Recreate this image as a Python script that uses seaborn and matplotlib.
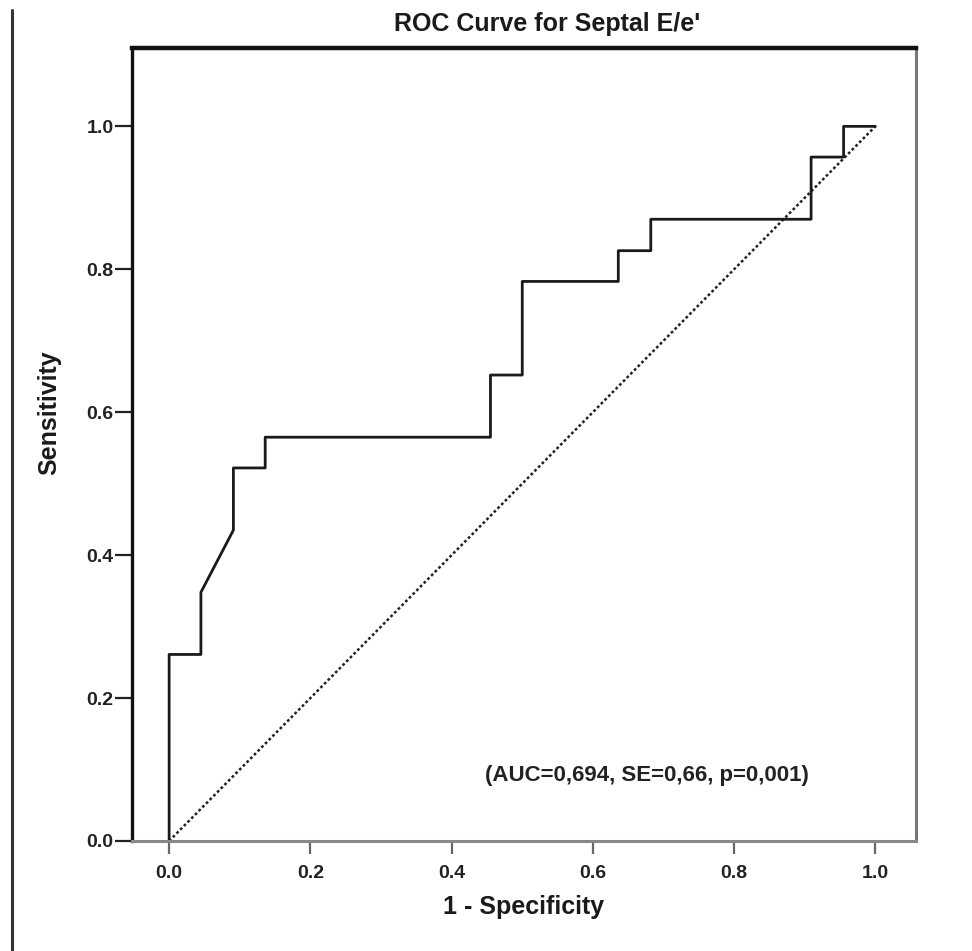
import matplotlib
matplotlib.use("Agg")
import matplotlib.pyplot as plt
from matplotlib.lines import Line2D
import pandas as pd
import seaborn as sns

# ROC curve vertices (1 - specificity, sensitivity)
fpr = [0.0, 0.0, 0.045, 0.045, 0.091, 0.091, 0.136, 0.136, 0.455, 0.455, 0.5,
       0.5, 0.636, 0.636, 0.682, 0.682, 0.909, 0.909, 0.955, 0.955, 1.0]
tpr = [0.0, 0.261, 0.261, 0.348, 0.435, 0.522, 0.522, 0.565, 0.565, 0.652, 0.652,
       0.783, 0.783, 0.826, 0.826, 0.870, 0.870, 0.957, 0.957, 1.0, 1.0]

# chance reference line
ref_x = [0.0, 1.0]
ref_y = [0.0, 1.0]

tick_values = [0.0, 0.2, 0.4, 0.6, 0.8, 1.0]
tick_labels = ["0.0", "0.2", "0.4", "0.6", "0.8", "1.0"]

title = "ROC Curve for Septal E/e'"
xlabel = "1 - Specificity"
ylabel = "Sensitivity"
stats_text = "(AUC=0,694, SE=0,66, p=0,001)"

sns.set_theme(style="white")
plt.rcParams["font.family"] = ["Liberation Sans", "DejaVu Sans"]
plt.rcParams["font.weight"] = "bold"

fig = plt.figure(figsize=(9.72, 9.51), dpi=100)
ax = fig.add_axes([0.1355, 0.1157, 0.8065, 0.8341])

roc = pd.DataFrame({"fpr": fpr, "tpr": tpr})
ref = pd.DataFrame({"x": ref_x, "y": ref_y})

sns.lineplot(data=ref, x="x", y="y", ax=ax, sort=False, estimator=None,
             color="#222222", linewidth=1.8, linestyle=(0, (1.1, 1.0)))
sns.lineplot(data=roc, x="fpr", y="tpr", ax=ax, sort=False, estimator=None,
             color="#1a1a1a", linewidth=2.0)

ax.set_xlim(-0.053, 1.057)
ax.set_ylim(0.0, 1.11)
ax.set_xticks(tick_values)
ax.set_xticklabels(tick_labels)
ax.set_yticks(tick_values)
ax.set_yticklabels(tick_labels)

ax.tick_params(axis="x", direction="out", length=9, width=1.6, color="#666666",
               labelsize=14, labelcolor="#222222", pad=8, bottom=True)
ax.tick_params(axis="y", direction="out", length=12, width=1.6, color="#222222",
               labelsize=14, labelcolor="#222222", pad=1, left=True)
for lab in ax.get_xticklabels() + ax.get_yticklabels():
    lab.set_fontweight("bold")

ax.spines["top"].set_color("#111111")
ax.spines["top"].set_linewidth(3.2)
ax.spines["left"].set_color("#111111")
ax.spines["left"].set_linewidth(2.4)
ax.spines["right"].set_color("#777777")
ax.spines["right"].set_linewidth(2.2)
ax.spines["bottom"].set_color("#888888")
ax.spines["bottom"].set_linewidth(2.2)

ax.set_xlabel(xlabel, fontsize=18, fontweight="bold", color="#1a1a1a", labelpad=10)
ax.set_ylabel(ylabel, fontsize=18, fontweight="bold", color="#1a1a1a")
ax.yaxis.set_label_coords(-0.090, 0.54)
ax.set_title(title, fontsize=18, fontweight="bold", color="#1a1a1a", pad=12, x=0.53)

ax.text(0.676, 0.092, stats_text, fontsize=16, fontweight="bold",
        color="#222222", ha="center", va="center")

# vertical rule along the left edge of the page
fig.add_artist(Line2D([0.012, 0.012], [0.0, 0.99], transform=fig.transFigure,
                      color="#333333", linewidth=2.2))

fig.savefig("out.png", dpi=100, facecolor="white")
